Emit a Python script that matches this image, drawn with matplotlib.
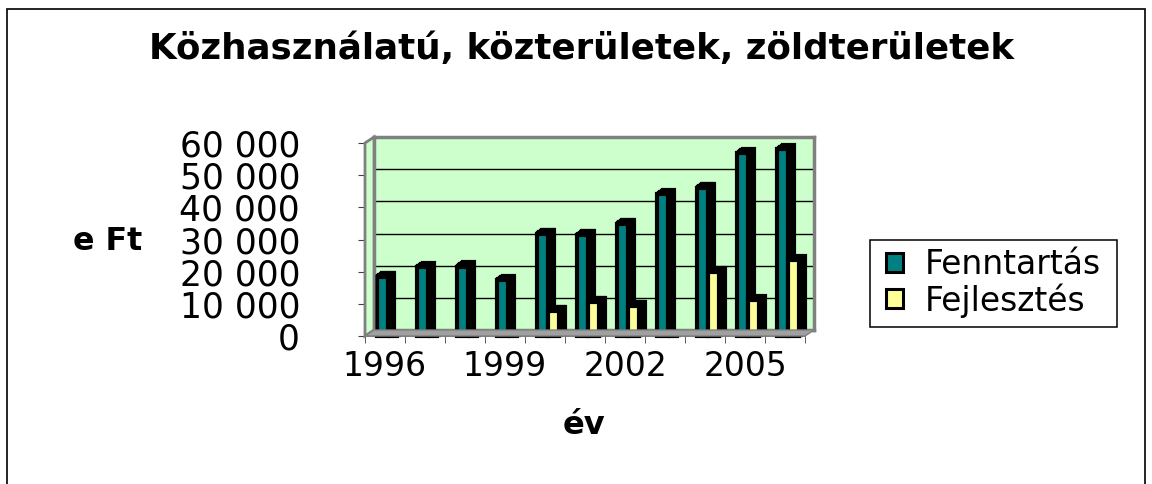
import matplotlib
matplotlib.use("Agg")
import matplotlib.pyplot as plt
import numpy as np
from matplotlib.patches import Patch, Rectangle, Polygon
from matplotlib.transforms import offset_copy

plt.rcParams['font.family'] = ['DejaVu Sans']

# ---- data ----
years = [1996, 1997, 1998, 1999, 2000, 2001, 2002, 2003, 2004, 2005, 2006]
year_labels = ["1996", "1999", "2002", "2005"]
fenntartas = [18400, 21400, 21600, 17400, 31800, 31400, 34900, 44000, 46100, 56800, 58000]
fejlesztes = [0, 0, 0, 0, 7800, 10600, 9400, 0, 19800, 11100, 23600]
y_ticks = [0, 10000, 20000, 30000, 40000, 50000, 60000]
series_names = ["Fenntartás", "Fejlesztés"]
title = "Közhasználatú, közterületek, zöldterületek"
ylabel = "e Ft"
xlabel = "év"

W, H = 1152, 484
DPI = 100
fig = plt.figure(figsize=(W / DPI, H / DPI), dpi=DPI)
PT = DPI / 72.0  # px per point


def fx(px):
    return px / W


def fy(py):
    return 1 - py / H


# outer chart border
fig.patches.append(Rectangle((fx(7), fy(500)), fx(1145) - fx(7), fy(9) - fy(500),
                             transform=fig.transFigure, fill=False,
                             edgecolor='black', lw=1.2, zorder=0))

FL, FR, FT, FB = 365, 805, 143, 336   # front plane (pixels)
DX, DY = 9, 6                         # wall depth offset

# back wall
wall = fig.add_axes([fx(FL + DX), fy(FB - DY), (FR - FL) / W, (FB - FT) / H])
wall.set_facecolor('#CCFFCC')
wall.set_ylim(0, 60000)
wall.set_xlim(-0.5, 10.5)
wall.set_yticks(y_ticks)
wall.set_xticks([])
wall.tick_params(left=False, labelleft=False)
wall.grid(axis='y', color='black', lw=1)
for s in wall.spines.values():
    s.set_color('#808080')
    s.set_linewidth(2.5)

# side wall and floor
fig.patches.append(Polygon([(fx(FL), fy(FB)), (fx(FL), fy(FT)), (fx(FL + DX), fy(FT - DY)),
                            (fx(FL + DX), fy(FB - DY))], closed=True,
                           transform=fig.transFigure, facecolor='#CCFFCC',
                           edgecolor='#808080', lw=2, zorder=1))
fig.patches.append(Polygon([(fx(FL), fy(FB)), (fx(FR), fy(FB)), (fx(FR + DX), fy(FB - DY)),
                            (fx(FL + DX), fy(FB - DY))], closed=True,
                           transform=fig.transFigure, facecolor='#A0A0A0',
                           edgecolor='#808080', lw=1, zorder=1))

# front axes with bars
ax = fig.add_axes([fx(FL), fy(FB), (FR - FL) / W, (FB - FT) / H])
ax.patch.set_visible(False)
ax.set_ylim(0, 60000)
ax.set_xlim(-0.5, 10.5)
for k in ['top', 'right']:
    ax.spines[k].set_visible(False)
for k in ['left', 'bottom']:
    ax.spines[k].set_color('#606060')
    ax.spines[k].set_linewidth(1.2)

x = np.arange(len(years))
teal = '#008080'
yellow = '#FFFF99'
w = 0.27
LW = 3.0


def bar3d(xpos, vals, color):
    for k in range(1, 7):
        tr = offset_copy(ax.transData, fig=fig, x=k * 1.0, y=k * 0.7, units='dots')
        ax.bar(xpos, vals, w, color='black', edgecolor='black', lw=LW,
               transform=tr, zorder=2, clip_on=False)
    ax.bar(xpos, vals, w, color=color, edgecolor='black', lw=LW, zorder=3,
           clip_on=False)


bar3d(x - 0.07, fenntartas, teal)
bar3d(x + 0.22, fejlesztes, yellow)

TICKLEN = 5
ax.set_yticks(y_ticks)
ax.set_yticklabels([f"{v:,}".replace(",", " ") for v in y_ticks], fontsize=22)
ax.tick_params(axis='y', direction='out', length=TICKLEN, color='#404040', pad=42)

ax.set_xticks([0, 3, 6, 9])
ax.set_xticklabels(year_labels, fontsize=22)
ax.set_xticks(np.arange(-0.5, 11, 1), minor=True)
ax.tick_params(axis='x', which='major', length=0, pad=14)
ax.tick_params(axis='x', which='minor', direction='out', length=TICKLEN, color='#404040')

t_title = fig.text(fx(582), fy(49), title, fontsize=23, fontweight='bold',
                   ha='center', va='center')
t_yl = fig.text(fx(108), fy(242), ylabel, fontsize=20, fontweight='bold',
                ha='center', va='center')
t_xl = fig.text(fx(584), fy(426), xlabel, fontsize=20, fontweight='bold',
                ha='center', va='center')

# ---- fit text sizes to the reference widths ----
fig.canvas.draw()
r = fig.canvas.get_renderer()
SHRINK = 0.95


def fit(t, target):
    bb = t.get_window_extent(r)
    t.set_fontsize(t.get_fontsize() * target / bb.width)


fit(t_title, 865)
fit(t_yl, 73 * SHRINK)
fit(t_xl, 45 * SHRINK)

lab = ax.get_yticklabels()[-1]
ysz = 22 * (127 * SHRINK) / lab.get_window_extent(r).width
xlab = ax.get_xticklabels()[0]
xsz = 22 * (88 * SHRINK) / xlab.get_window_extent(r).width
ax.tick_params(axis='y', labelsize=ysz)
ax.tick_params(axis='x', which='major', labelsize=xsz)
fig.canvas.draw()

# y labels: right edge at 300 px
x1 = ax.get_yticklabels()[-1].get_window_extent(r).x1
ax.tick_params(axis='y', pad=42 + (x1 - 300) / PT)
# x labels: vertical centre at 367 px from top
bb = ax.get_xticklabels()[0].get_window_extent(r)
cy = H - (bb.y0 + bb.y1) / 2
ax.tick_params(axis='x', which='major', pad=14 + (367 - cy) / PT)

# legend
probe = fig.text(0, 0, series_names[0], fontsize=24)
fit(probe, 185 * SHRINK)
lfs = probe.get_fontsize()
probe.remove()
fs_px = lfs * PT
handles = [Patch(facecolor=teal, edgecolor='black', lw=2.2, label=series_names[0]),
           Patch(facecolor=yellow, edgecolor='black', lw=2.2, label=series_names[1])]
leg = fig.legend(handles=handles, loc='center left', bbox_to_anchor=(fx(886), fy(283)),
                 bbox_transform=fig.transFigure, fontsize=lfs, frameon=False,
                 handlelength=17 / fs_px, handleheight=17 / fs_px,
                 handletextpad=22 / fs_px, borderpad=0, borderaxespad=0,
                 labelspacing=0.05)
fig.patches.append(Rectangle((fx(870), fy(327)), fx(1117) - fx(870), fy(240) - fy(327),
                             transform=fig.transFigure, fill=False,
                             edgecolor='black', lw=1.1, zorder=5))

fig.savefig("out.png", dpi=DPI)
